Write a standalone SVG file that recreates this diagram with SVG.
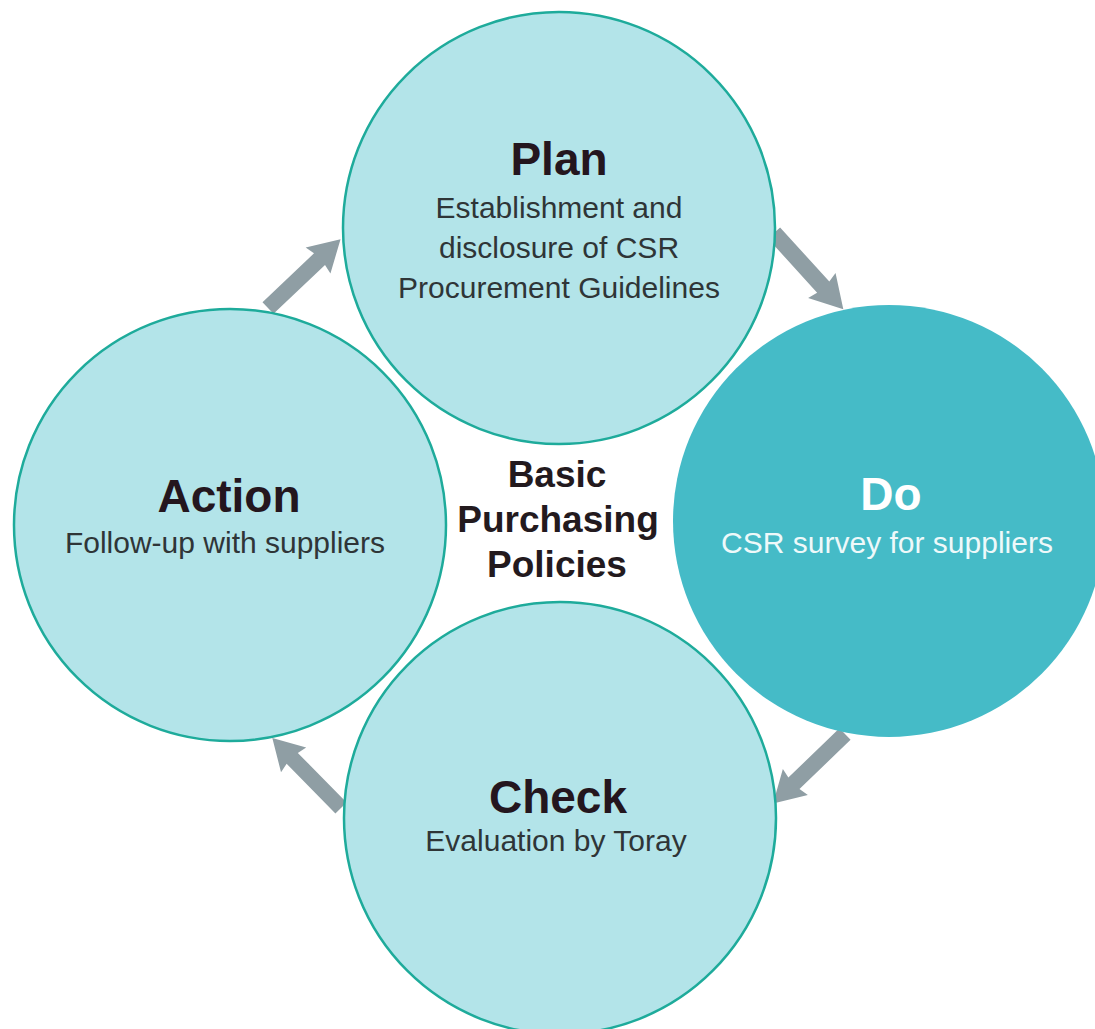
<svg xmlns="http://www.w3.org/2000/svg" width="1095" height="1029" viewBox="0 0 1095 1029">
  <style>
    .light { fill: #b3e4e9; stroke: #1eab9b; stroke-width: 2.5; }
    .dark { fill: #45bbc7; }
    .title { font-family: "Liberation Sans", Arial, sans-serif; font-weight: bold; font-size: 46px; fill: #24161e; text-anchor: middle; }
    .sub { font-family: "Liberation Sans", Arial, sans-serif; font-size: 30px; fill: #2f3537; text-anchor: middle; }
    .center { font-family: "Liberation Sans", Arial, sans-serif; font-weight: bold; font-size: 37px; fill: #231a1e; text-anchor: middle; }
    .arrow { fill: #8f9ea4; }
  </style>
  <defs>
    <polygon id="arr" points="0,-8 71,-8 69,-18 100,0 69,18 71,8 0,8"/>
  </defs>
  <rect width="1095" height="1029" fill="#ffffff"/>
  <g id="connectors" class="arrow">
    <use href="#arr" transform="translate(268,308) rotate(-43.5)"/>
    <use href="#arr" transform="translate(774,233) rotate(47.7) scale(1.03)"/>
    <use href="#arr" transform="translate(845,734) rotate(136)"/>
    <use href="#arr" transform="translate(341,808) rotate(-134.5) scale(0.98)"/>
  </g>
  <g id="plan">
    <circle class="light" cx="559" cy="228" r="216"/>
    <text class="title" x="559" y="175">Plan</text>
    <text class="sub" x="559" y="218">Establishment and</text>
    <text class="sub" x="559" y="258">disclosure of CSR</text>
    <text class="sub" x="559" y="298">Procurement Guidelines</text>
  </g>
  <g id="do">
    <circle class="dark" cx="889" cy="521" r="216"/>
    <text class="title" x="891" y="510" style="fill:#ffffff">Do</text>
    <text class="sub" x="887" y="553" style="fill:#eef9fa">CSR survey for suppliers</text>
  </g>
  <g id="action">
    <circle class="light" cx="230" cy="525" r="216"/>
    <text class="title" x="229" y="512">Action</text>
    <text class="sub" x="225" y="553">Follow-up with suppliers</text>
  </g>
  <g id="check">
    <circle class="light" cx="560" cy="818" r="216"/>
    <text class="title" x="558" y="813">Check</text>
    <text class="sub" x="556" y="851">Evaluation by Toray</text>
  </g>
  <g id="center">
    <text class="center" x="557" y="487">Basic</text>
    <text class="center" x="558" y="532">Purchasing</text>
    <text class="center" x="557" y="577">Policies</text>
  </g>
</svg>
